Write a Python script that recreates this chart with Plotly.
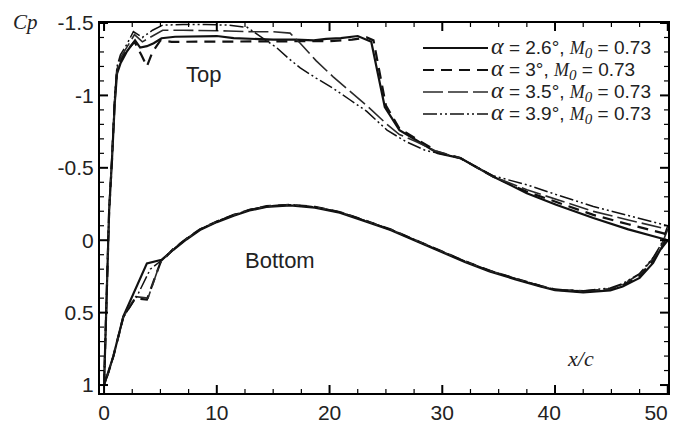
import plotly.graph_objects as go

# ---------------- data ----------------
series_names = ["α = 2.6°", "α = 3°", "α = 3.5°", "α = 3.9°"]
alpha_labels = ["2.6°", "3°", "3.5°", "3.9°"]
mach_label = "0.73"

# alpha = 2.6 (solid)
x_26 = [0, 0.25, 0.45, 0.7, 0.95, 1.15, 1.45, 2.0, 2.75, 3.2, 3.8, 4.4, 5.1, 6.3, 8.0, 10.0,
        11.5, 13.0, 15.0, 17.0, 18.6, 19.7, 21.0, 22.5, 23.7, 24.9, 26.2, 27.7, 29.6, 31.6,
        34.5, 37.5, 40.1, 43.4, 46.5, 49.3, 50.0,
        49.3, 48.7, 47.5, 46.0, 44.9, 42.5, 40.0, 38.7, 36.5, 34.2, 32.0, 29.8, 27.6, 25.4,
        23.2, 20.9, 18.7, 16.5, 14.4, 12.9, 11.5, 10.0, 8.5, 7.3, 6.15, 5.1, 3.8, 2.45, 1.71,
        0.83, 0.4, 0.0]
cp_26 = [1.0, 0.3, -0.2, -0.55, -0.95, -1.15, -1.22, -1.30, -1.38, -1.33, -1.34, -1.36, -1.395,
         -1.405, -1.405, -1.41, -1.395, -1.39, -1.385, -1.385, -1.38, -1.39, -1.395, -1.41, -1.37,
         -0.92, -0.76, -0.69, -0.60, -0.567, -0.44, -0.325, -0.245, -0.153, -0.075, -0.015, 0.0,
         0.07, 0.157, 0.26, 0.32, 0.346, 0.36, 0.345, 0.32, 0.27, 0.215, 0.15, 0.077, 0.005,
         -0.07, -0.13, -0.19, -0.225, -0.24, -0.23, -0.205, -0.17, -0.125, -0.07, -0.005, 0.066,
         0.135, 0.16, 0.40, 0.525, 0.80, 0.91, 1.0]

# alpha = 3 (short dash)
x_30 = [0, 0.25, 0.45, 0.7, 0.95, 1.15, 1.45, 2.0, 2.7, 3.3, 3.8, 4.3, 5.0, 6.0, 8.0, 10.0,
        12.0, 14.0, 16.0, 18.0, 20.0, 22.0, 23.3, 23.9, 25.0, 26.2, 27.7, 29.6, 31.6, 34.5,
        37.5, 40.5, 43.4, 46.5, 49.6, 50.0,
        49.4, 48.7, 47.5, 46.0, 44.9, 42.5, 40.0, 38.7, 36.5, 34.2, 32.0, 29.8, 27.6, 25.4,
        23.2, 20.9, 18.7, 16.5, 14.4, 12.9, 11.5, 10.0, 8.5, 7.3, 6.15, 5.0, 3.8, 2.75, 1.71,
        0.83, 0.4, 0.0]
cp_30 = [1.0, 0.3, -0.2, -0.55, -0.97, -1.17, -1.24, -1.31, -1.37, -1.28, -1.20, -1.30, -1.38,
         -1.37, -1.37, -1.37, -1.37, -1.37, -1.37, -1.37, -1.375, -1.385, -1.40, -1.38, -0.93,
         -0.77, -0.70, -0.61, -0.567, -0.44, -0.335, -0.255, -0.175, -0.11, -0.05, -0.04,
         0.06, 0.14, 0.245, 0.31, 0.34, 0.355, 0.34, 0.315, 0.265, 0.21, 0.145, 0.072, 0.0,
         -0.075, -0.135, -0.195, -0.23, -0.245, -0.235, -0.21, -0.175, -0.13, -0.075, -0.01,
         0.06, 0.155, 0.41, 0.40, 0.53, 0.80, 0.91, 1.0]

# alpha = 3.5 (long dash)
x_35 = [0, 0.25, 0.45, 0.7, 0.95, 1.15, 1.45, 2.0, 2.7, 3.4, 4.3, 5.2, 7.0, 9.0, 11.0, 13.0,
        15.0, 16.5, 17.4, 18.8, 20.3, 21.8, 23.3, 25.1, 26.2, 27.7, 29.6, 31.6, 34.5, 37.5,
        40.5, 43.4, 46.5, 49.6, 50.0,
        49.4, 48.7, 47.5, 46.0, 44.9, 42.5, 40.0, 38.7, 36.5, 34.2, 32.0, 29.8, 27.6, 25.4,
        23.2, 20.9, 18.7, 16.5, 14.4, 12.9, 11.5, 10.0, 8.5, 7.3, 6.15, 5.0, 3.9, 2.8, 1.71,
        0.83, 0.4, 0.0]
cp_35 = [1.0, 0.3, -0.2, -0.56, -0.98, -1.18, -1.26, -1.33, -1.42, -1.37, -1.41, -1.45, -1.45,
         -1.45, -1.445, -1.44, -1.44, -1.43, -1.36, -1.24, -1.13, -1.03, -0.93, -0.80, -0.73,
         -0.68, -0.61, -0.567, -0.44, -0.348, -0.27, -0.199, -0.14, -0.084, -0.075,
         0.04, 0.125, 0.235, 0.305, 0.335, 0.35, 0.34, 0.315, 0.265, 0.21, 0.145, 0.072, 0.0,
         -0.075, -0.135, -0.195, -0.23, -0.245, -0.235, -0.21, -0.175, -0.13, -0.075, -0.01,
         0.06, 0.15, 0.40, 0.39, 0.53, 0.80, 0.91, 1.0]

# alpha = 3.9 (dash-dot-dot)
x_39 = [0, 0.25, 0.45, 0.7, 0.95, 1.15, 1.45, 2.0, 2.6, 3.4, 4.3, 5.2, 7.0, 9.0, 11.0, 12.7,
        14.4, 15.3, 16.3, 17.4, 18.8, 20.3, 21.8, 23.3, 25.1, 26.8, 28.5, 31.6, 34.5, 37.5,
        40.5, 43.4, 46.5, 49.6, 50.0,
        49.4, 48.7, 47.5, 46.0, 44.9, 42.5, 40.0, 38.7, 36.5, 34.2, 32.0, 29.8, 27.6, 25.4,
        23.2, 20.9, 18.7, 16.5, 14.4, 12.9, 11.5, 10.0, 8.5, 7.3, 6.15, 5.0, 4.1, 2.9, 1.71,
        0.83, 0.4, 0.0]
cp_39 = [1.0, 0.3, -0.22, -0.58, -1.0, -1.2, -1.28, -1.35, -1.44, -1.40, -1.45, -1.485, -1.49,
         -1.49, -1.485, -1.47, -1.38, -1.33, -1.26, -1.19, -1.12, -1.05, -0.97, -0.89, -0.76,
         -0.68, -0.62, -0.567, -0.445, -0.383, -0.305, -0.233, -0.17, -0.107, -0.10,
         0.03, 0.12, 0.23, 0.30, 0.33, 0.35, 0.34, 0.315, 0.265, 0.21, 0.145, 0.072, 0.0,
         -0.075, -0.135, -0.195, -0.23, -0.245, -0.235, -0.21, -0.175, -0.13, -0.075, -0.01,
         0.06, 0.145, 0.20, 0.39, 0.53, 0.80, 0.91, 1.0]

x_tickvals = [0, 10, 20, 30, 40, 50]
x_ticktext = ["0", "10", "20", "30", "40&nbsp;&nbsp;", "50&nbsp;&nbsp;&nbsp;&nbsp;"]
y_tickvals = [-1.5, -1.0, -0.5, 0.0, 0.5, 1.0]
y_ticktext = ["-1.5", "-1", "-0.5", "0", "0.5", "1"]

# ---------------- layout helpers ----------------
W, H = 682, 425
ML, MR, MT, MB = 100, 14, 23, 32
PW, PH = W - ML - MR, H - MT - MB
X_RANGE = [-0.36, 50.02]
Y_RANGE = [1.055, -1.5]


def px_x(p):
    return (p - ML) / PW


def px_y(p):
    return (H - MB - p) / PH


def frac_x(v):
    # position of an x-axis value as a fraction of the plot width (axis scale)
    return (v - X_RANGE[0]) / (X_RANGE[1] - X_RANGE[0])


def frac_y(v):
    # position of a y-axis value as a fraction of the plot height (reversed axis)
    return (v - Y_RANGE[0]) / (Y_RANGE[1] - Y_RANGE[0])


INK = "black"
SANS = "Liberation Sans, Arial, sans-serif"
SERIF = "Liberation Serif, Times New Roman, serif"

styles = [
    dict(dash="solid", width=2.2, color="#111111"),
    dict(dash="11px,7px", width=2.2, color="#111111"),
    dict(dash="20px,5px", width=1.6, color="#2a2a2a"),
    dict(dash="14px,3px,2px,3px,2px,3px", width=1.5, color="#111111"),
]

xs = [x_26, x_30, x_35, x_39]
cps = [cp_26, cp_30, cp_35, cp_39]

fig = go.Figure()
for name, xv, cv, st in zip(series_names, xs, cps, styles):
    fig.add_trace(go.Scatter(x=xv, y=cv, mode="lines", name=name, line=st,
                             showlegend=False, hoverinfo="skip"))

x_minor = [i * 2.5 for i in range(0, 21) if i % 4 != 0]
y_minor = [round(-1.5 + i * 0.1, 2) for i in range(0, 26) if i % 5 != 0]

axis_style = dict(showline=True, linecolor=INK, linewidth=2, mirror=True, ticks="",
                  showgrid=False, zeroline=False, automargin=False,
                  ticklabeloverflow="allow",
                  tickfont=dict(family=SANS, size=21, color="#222222"))

# inward tick marks on all four sides (positions follow the axis scales)
shapes = []
for vals, length, width in ((x_tickvals, 8, 2), (x_minor, 4, 1.2)):
    dl = length / PH
    for v in vals:
        fx = frac_x(v)
        shapes.append(dict(type="line", xref="paper", yref="paper", x0=fx, x1=fx,
                           y0=0, y1=dl, line=dict(color=INK, width=width)))
        shapes.append(dict(type="line", xref="paper", yref="paper", x0=fx, x1=fx,
                           y0=1, y1=1 - dl, line=dict(color=INK, width=width)))
for vals, length, width in ((y_tickvals, 8, 2), (y_minor, 4, 1.2)):
    dl = length / PW
    for v in vals:
        fy = frac_y(v)
        shapes.append(dict(type="line", xref="paper", yref="paper", y0=fy, y1=fy,
                           x0=0, x1=dl, line=dict(color=INK, width=width)))
        shapes.append(dict(type="line", xref="paper", yref="paper", y0=fy, y1=fy,
                           x0=1, x1=1 - dl, line=dict(color=INK, width=width)))

annotations = [
    dict(x=px_x(25), y=px_y(22), xref="paper", yref="paper", text="<i>Cp</i>",
         showarrow=False, font=dict(family=SERIF, size=21, color="#222222"),
         xanchor="center", yanchor="middle"),
    dict(x=px_x(580), y=px_y(358), xref="paper", yref="paper", text="<i>x/c</i>",
         showarrow=False, font=dict(family=SERIF, size=22, color="#222222"),
         xanchor="center", yanchor="middle"),
    dict(x=8.78, y=-1.141, xref="x", yref="y", text="Top", showarrow=False,
         font=dict(family=SANS, size=22, color="#222222"), xanchor="center", yanchor="middle"),
    dict(x=15.6, y=0.141, xref="x", yref="y", text="Bottom", showarrow=False,
         font=dict(family=SANS, size=22, color="#222222"), xanchor="center", yanchor="middle"),
]

legend_rows_y = [48, 70, 92, 114]
rows = []
for a_lab, st, ry in zip(alpha_labels, styles, legend_rows_y):
    shapes.append(dict(type="line", xref="paper", yref="paper",
                       x0=px_x(423), x1=px_x(488), y0=px_y(ry), y1=px_y(ry),
                       line=dict(color=st["color"], width=st["width"], dash=st["dash"])))
    rows.append(
        "<span style='font-family:Liberation Serif;font-style:italic;font-size:24px'>α</span>"
        f"<span style='font-size:19px'> = {a_lab}, </span>"
        "<span style='font-family:Liberation Serif;font-style:italic;font-size:18px'>M</span>"
        "<sub><span style='font-family:Liberation Serif;font-style:italic;font-size:15px'>0</span></sub>"
        f"<span style='font-size:19px'> = {mach_label}</span>")
annotations.append(dict(x=px_x(489), y=px_y(80), xref="paper", yref="paper",
                        text="<br>".join(rows), showarrow=False, align="left",
                        xanchor="left", yanchor="middle",
                        font=dict(family=SANS, size=17, color="#222222")))

fig.update_layout(
    template="none",
    width=W, height=H,
    margin=dict(l=ML, r=MR, t=MT, b=MB, pad=0, autoexpand=False),
    paper_bgcolor="white", plot_bgcolor="white",
    xaxis=dict(range=X_RANGE, tickvals=x_tickvals, ticktext=x_ticktext, **axis_style),
    yaxis=dict(range=Y_RANGE, tickvals=y_tickvals, ticktext=y_ticktext, **axis_style),
    annotations=annotations, shapes=shapes,
    showlegend=False,
)

fig.write_html(
    "out.html",
    config={"displayModeBar": False},
    post_script="document.body.style.margin='0px';document.body.style.overflow='hidden';",
)
